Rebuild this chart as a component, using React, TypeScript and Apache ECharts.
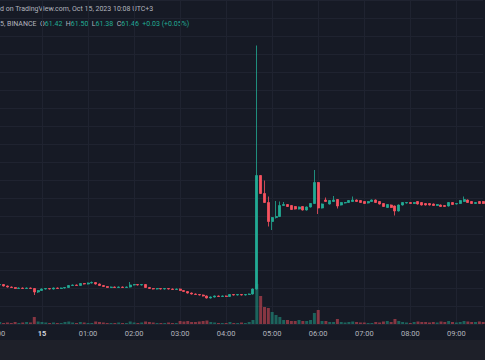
import React, { useEffect, useRef } from "react";
import * as echarts from "echarts";

// 5-minute candles, 23:00 (Oct 14) -> 09:35 (Oct 15)
// [open, close, low, high]
const candles: number[][] = [
  [59.81, 59.82, 59.80, 59.83], [59.82, 59.83, 59.81, 59.84], [59.83, 59.80, 59.79, 59.84], [59.80, 59.78, 59.77, 59.81],
  [59.78, 59.77, 59.76, 59.79], [59.77, 59.75, 59.74, 59.78], [59.75, 59.76, 59.74, 59.77], [59.76, 59.75, 59.74, 59.77],
  [59.75, 59.76, 59.74, 59.77], [59.76, 59.75, 59.74, 59.77], [59.75, 59.68, 59.62, 59.76], [59.68, 59.71, 59.66, 59.72],
  [59.71, 59.74, 59.70, 59.75], [59.74, 59.75, 59.73, 59.76], [59.75, 59.74, 59.73, 59.76], [59.74, 59.76, 59.73, 59.77],
  [59.76, 59.75, 59.74, 59.77], [59.75, 59.76, 59.74, 59.77], [59.76, 59.77, 59.75, 59.78], [59.77, 59.81, 59.76, 59.82],
  [59.81, 59.82, 59.80, 59.83], [59.82, 59.81, 59.80, 59.83], [59.81, 59.85, 59.80, 59.86], [59.85, 59.84, 59.83, 59.86],
  [59.84, 59.86, 59.83, 59.87], [59.86, 59.87, 59.85, 59.89], [59.87, 59.84, 59.83, 59.88], [59.84, 59.81, 59.80, 59.85],
  [59.81, 59.79, 59.78, 59.82], [59.79, 59.77, 59.76, 59.80], [59.77, 59.78, 59.76, 59.79], [59.78, 59.77, 59.76, 59.79],
  [59.77, 59.78, 59.76, 59.79], [59.78, 59.77, 59.76, 59.79], [59.77, 59.78, 59.76, 59.79], [59.78, 59.82, 59.77, 59.88],
  [59.82, 59.83, 59.81, 59.84], [59.83, 59.82, 59.81, 59.84], [59.82, 59.83, 59.81, 59.84], [59.83, 59.77, 59.76, 59.84],
  [59.77, 59.75, 59.74, 59.78], [59.75, 59.74, 59.73, 59.76], [59.74, 59.75, 59.73, 59.76], [59.75, 59.74, 59.73, 59.76],
  [59.74, 59.75, 59.73, 59.76], [59.75, 59.74, 59.73, 59.76], [59.74, 59.73, 59.72, 59.75], [59.73, 59.74, 59.72, 59.75],
  [59.74, 59.71, 59.70, 59.75], [59.71, 59.69, 59.68, 59.72], [59.69, 59.66, 59.65, 59.70], [59.66, 59.64, 59.63, 59.67],
  [59.64, 59.63, 59.62, 59.65], [59.63, 59.62, 59.61, 59.64], [59.62, 59.60, 59.59, 59.63], [59.60, 59.56, 59.55, 59.61],
  [59.56, 59.58, 59.55, 59.59], [59.58, 59.60, 59.57, 59.61], [59.60, 59.59, 59.58, 59.61], [59.59, 59.60, 59.58, 59.61],
  [59.60, 59.59, 59.58, 59.61], [59.59, 59.63, 59.58, 59.64], [59.63, 59.62, 59.61, 59.64], [59.62, 59.63, 59.61, 59.64],
  [59.63, 59.62, 59.61, 59.64], [59.62, 59.63, 59.61, 59.64], [59.63, 59.64, 59.62, 59.65], [59.64, 59.74, 59.63, 59.75],
  [59.74, 62.01, 59.73, 64.61], [62.01, 61.65, 61.64, 62.02], [61.65, 61.47, 61.46, 61.91], [61.47, 61.09, 60.99, 61.59],
  [61.09, 61.17, 60.92, 61.18], [61.17, 61.19, 61.15, 61.50], [61.19, 61.41, 61.18, 61.49], [61.41, 61.43, 61.40, 61.48],
  [61.43, 61.39, 61.38, 61.44], [61.41, 61.33, 61.32, 61.42], [61.39, 61.34, 61.33, 61.40], [61.34, 61.38, 61.33, 61.39],
  [61.39, 61.32, 61.31, 61.40], [61.32, 61.38, 61.31, 61.39], [61.38, 61.45, 61.37, 61.46], [61.45, 61.87, 61.44, 62.12],
  [61.87, 61.36, 61.24, 61.88], [61.36, 61.44, 61.35, 61.45], [61.52, 61.49, 61.48, 61.57], [61.44, 61.51, 61.43, 61.52],
  [61.49, 61.52, 61.48, 61.60], [61.53, 61.40, 61.35, 61.54], [61.42, 61.47, 61.41, 61.48], [61.46, 61.47, 61.45, 61.48],
  [61.47, 61.51, 61.46, 61.52], [61.49, 61.52, 61.48, 61.59], [61.52, 61.49, 61.48, 61.53], [61.51, 61.47, 61.46, 61.52],
  [61.49, 61.45, 61.44, 61.50], [61.46, 61.49, 61.45, 61.50], [61.49, 61.52, 61.48, 61.53], [61.52, 61.47, 61.46, 61.53],
  [61.49, 61.44, 61.43, 61.50], [61.45, 61.39, 61.38, 61.46], [61.37, 61.43, 61.36, 61.44], [61.42, 61.37, 61.36, 61.43],
  [61.40, 61.30, 61.21, 61.41], [61.30, 61.42, 61.29, 61.43], [61.42, 61.47, 61.41, 61.48], [61.46, 61.47, 61.45, 61.48],
  [61.47, 61.45, 61.44, 61.48], [61.45, 61.47, 61.44, 61.48], [61.49, 61.44, 61.43, 61.50], [61.47, 61.42, 61.41, 61.48],
  [61.45, 61.42, 61.41, 61.46], [61.45, 61.42, 61.41, 61.46], [61.44, 61.41, 61.40, 61.45], [61.41, 61.43, 61.40, 61.44],
  [61.42, 61.39, 61.38, 61.43], [61.41, 61.39, 61.38, 61.42], [61.40, 61.47, 61.39, 61.48], [61.47, 61.43, 61.42, 61.48],
  [61.44, 61.45, 61.43, 61.46], [61.45, 61.51, 61.44, 61.52], [61.49, 61.53, 61.48, 61.59], [61.52, 61.47, 61.46, 61.53],
  [61.49, 61.45, 61.44, 61.50], [61.45, 61.47, 61.44, 61.48], [61.49, 61.45, 61.44, 61.50], [61.49, 61.45, 61.44, 61.50],
];

const volumes: number[] = [
  1.5, 2, 1, 1.5, 1, 2, 1, 1.5, 2, 1.5,
  7, 2.5, 2, 1.5, 1, 1.5, 1, 1, 2, 2.5,
  1.5, 1, 2, 1.5, 1, 1, 2.5, 2, 1.5, 1,
  1, 1, 1.5, 1, 1, 2.5, 1.5, 1, 1.5, 2.5,
  2, 1.5, 1, 1, 1, 1.5, 1, 1, 3, 2.5,
  3, 2, 2, 2.5, 3, 3.5, 2, 1.5, 1, 1,
  1, 2, 1, 1, 1.5, 1, 2, 4, 40, 28,
  17, 16, 12, 9, 7, 4, 4, 3, 3, 4,
  3, 3, 4, 11, 14, 3, 3, 2, 2, 5,
  2, 1.5, 2, 2.5, 2, 1.5, 1.5, 1, 1, 2,
  1.5, 2.5, 3, 2, 5, 3, 2, 1.5, 1, 2,
  2.5, 2, 2, 1.5, 2, 1.5, 2.5, 2, 3, 2,
  1.5, 2, 3, 2.5, 2, 2, 2.5, 2,
];

const times: string[] = [];
for (let i = 0; i < candles.length; i++) {
  const m = 23 * 60 + 5 * i;
  const h = Math.floor(m / 60) % 24;
  const mm = m % 60;
  times.push(String(h).padStart(2, "0") + ":" + String(mm).padStart(2, "0"));
}

const UP = "#22ab94";
const DOWN = "#f7525f";
const BG = "#161a25";
const GRID = "#1f2330";
const TEXT = "#b2b5be";
const FONT = "Roboto";

export default function App() {
  const ref = useRef<HTMLDivElement>(null);
  useEffect(() => {
    document.body.style.margin = "0";
    const chart = echarts.init(ref.current!, undefined, { renderer: "svg" });
    const volData = volumes.map((v, i) => ({
      value: v,
      itemStyle: {
        color: candles[i][1] >= candles[i][0] ? "rgba(34,171,148,0.5)" : "rgba(247,82,95,0.5)",
      },
    }));
    const hourInterval = (index: number) => index % 12 === 0;
    const gridL = -4.08;
    const gridR = 1.8;
    chart.setOption({
      animation: false,
      backgroundColor: BG,
      grid: [
        { left: gridL, right: gridR, top: 0, bottom: 36, outerBoundsMode: "none", containLabel: false },
        { left: gridL, right: gridR, bottom: 36, height: 60, outerBoundsMode: "none", containLabel: false },
      ],
      xAxis: [
        {
          type: "category",
          data: times,
          gridIndex: 0,
          boundaryGap: false,
          axisLine: { show: false },
          axisTick: { show: false },
          axisLabel: { show: false },
          splitLine: { show: true, interval: hourInterval, lineStyle: { color: GRID, width: 1 } },
        },
        {
          type: "category",
          data: times,
          gridIndex: 1,
          boundaryGap: false,
          axisLine: { show: false },
          axisTick: { show: false },
          splitLine: { show: false },
          axisLabel: {
            show: true,
            interval: hourInterval,
            hideOverlap: false,
            margin: 5,
            color: TEXT,
            fontSize: 7.5,
            fontFamily: FONT,
            formatter: (v: string) => (v === "00:00" ? "{b|15}" : v),
            rich: { b: { fontWeight: "bold", fontSize: 7.5, color: "#d1d4dc", fontFamily: FONT } },
          },
        },
      ],
      yAxis: [
        {
          type: "value",
          gridIndex: 0,
          min: 59.04,
          max: 65.52,
          interval: 0.36,
          axisLabel: { show: false },
          axisLine: { show: false },
          axisTick: { show: false },
          splitLine: { show: true, lineStyle: { color: GRID, width: 1 } },
        },
        {
          type: "value",
          gridIndex: 1,
          min: 0,
          max: 60,
          show: false,
          splitLine: { show: false },
        },
      ],
      series: [
        {
          type: "bar",
          xAxisIndex: 1,
          yAxisIndex: 1,
          data: volData,
          barWidth: 3,
          z: 1,
        },
        {
          type: "candlestick",
          xAxisIndex: 0,
          yAxisIndex: 0,
          data: candles,
          barWidth: 2.5,
          z: 3,
          itemStyle: {
            color: UP,
            color0: DOWN,
            borderColor: UP,
            borderColor0: DOWN,
            borderWidth: 0.8,
          },
        },
      ],
      graphic: [
        {
          type: "rect",
          left: 0,
          top: 340,
          shape: { width: 485, height: 20 },
          style: { fill: "#1e2029" },
          z: 0,
        },
        {
          type: "text",
          x: 0,
          y: 8.5,
          style: { text: "d on TradingView.com, Oct 15, 2023 10:08 UTC+3", fill: TEXT, fontSize: 7, fontFamily: FONT, textVerticalAlign: "middle" },
        },
        {
          type: "text",
          x: 0,
          y: 24,
          style: {
            text: "{g|5, BINANCE}  {g|O}{v|61.42}  {g|H}{v|61.50}  {g|L}{v|61.38}  {g|C}{v|61.46}  {v|+0.03 (+0.05%)}",
            textVerticalAlign: "middle",
            rich: {
              g: { fill: TEXT, fontSize: 7, fontFamily: FONT },
              v: { fill: UP, fontSize: 7, fontFamily: FONT },
            },
            fontSize: 7,
            fontFamily: FONT,
          },
        },
      ],
    });
    return () => chart.dispose();
  }, []);
  return <div ref={ref} style={{ position: "fixed", left: 0, top: 0, width: 485, height: 360 }} />;
}
